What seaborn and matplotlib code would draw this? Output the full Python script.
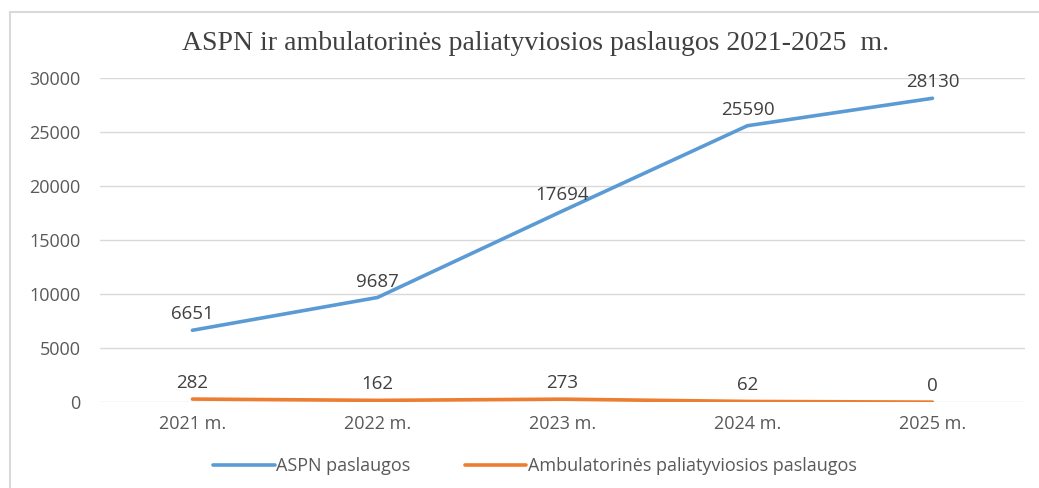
import pandas as pd
import matplotlib.pyplot as plt
import seaborn as sns
from matplotlib.patches import Rectangle

years = ['2021 m.', '2022 m.', '2023 m.', '2024 m.', '2025 m.']
aspn = [6651, 9687, 17694, 25590, 28130]
ambul = [282, 162, 273, 62, 0]
series_names = ['ASPN paslaugos', 'Ambulatorinės paliatyviosios paslaugos']

df = pd.DataFrame({
    'Metai': years * 2,
    'x': list(range(len(years))) * 2,
    'Reikšmė': aspn + ambul,
    'Serija': [series_names[0]] * len(years) + [series_names[1]] * len(years),
})

sns.set_style('white')
plt.rcParams['font.family'] = ['Open Sans', 'DejaVu Sans']

fig = plt.figure(figsize=(10.39, 4.88), dpi=100)
ax = fig.add_axes([0.0962, 0.176, 0.8903, 0.664])

# outer frame of the chart area
fig.patches.append(Rectangle((10 / 1039, -0.1), 1.2, 1 - 12 / 488 + 0.1,
                             transform=fig.transFigure, fill=False,
                             edgecolor='#D9D9D9', linewidth=1.5))

palette = {series_names[0]: '#5B9BD5', series_names[1]: '#ED7D31'}
sns.lineplot(data=df, x='x', y='Reikšmė', hue='Serija', palette=palette,
             linewidth=2.6, ax=ax, legend=False, solid_capstyle='round')

for vals in (aspn, ambul):
    for i, v in enumerate(vals):
        ax.annotate(str(v), (i, v), xytext=(0, 5), textcoords='offset points',
                    ha='center', va='bottom', fontsize=13.5, color='#404040')

ax.set_xlim(-0.5, 4.5)
ax.set_ylim(0, 30000)
ax.set_yticks(range(0, 30001, 5000))
ax.set_xticks(range(len(years)))
ax.set_xticklabels(years)
ax.set_xlabel('')
ax.set_ylabel('')
ax.grid(axis='y', color='#D9D9D9', linewidth=1)
ax.set_axisbelow(True)
for s in ax.spines.values():
    s.set_visible(False)
ax.tick_params(axis='both', length=0, labelsize=13, labelcolor='#595959')
ax.tick_params(axis='y', pad=14)
ax.tick_params(axis='x', pad=9)

fig.text(0.515, 0.91, 'ASPN ir ambulatorinės paliatyviosios paslaugos 2021-2025  m.',
         ha='center', va='center', fontsize=20, color='#404040',
         family=['Liberation Serif', 'DejaVu Serif'])

handles = [plt.Line2D([], [], color=palette[n], linewidth=2.6) for n in series_names]
fig.legend(handles, series_names, loc='center', bbox_to_anchor=(0.515, 0.045),
           ncol=2, frameon=False, fontsize=13, labelcolor='#595959',
           handlelength=3.4, handletextpad=0.1, columnspacing=3.0)

fig.savefig('out.png', dpi=100)
